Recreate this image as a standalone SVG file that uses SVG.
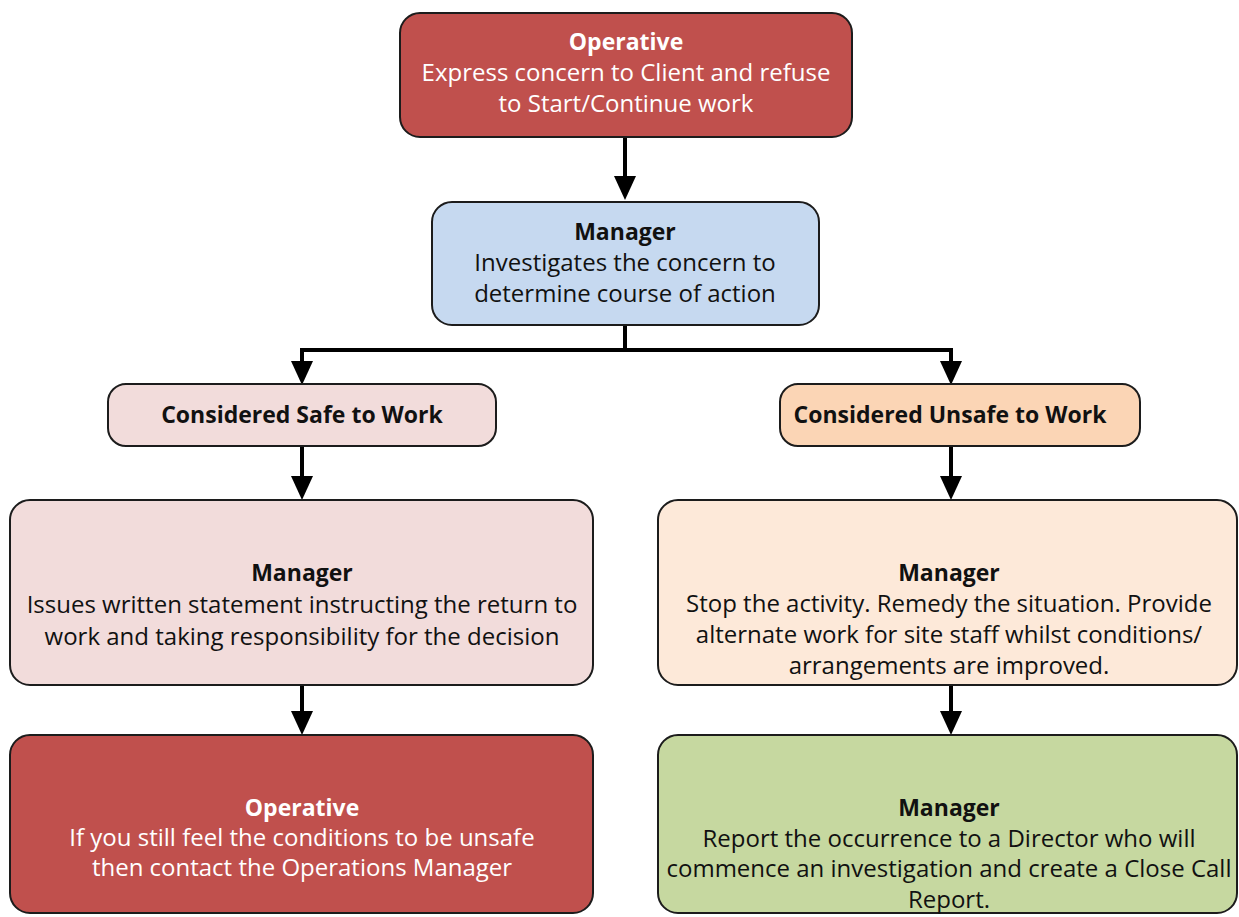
<svg xmlns="http://www.w3.org/2000/svg" width="1239" height="917" viewBox="0 0 1239 917">
<style>
.box{stroke:#1c1c1c;stroke-width:2}
.red{fill:#C0504D}
.blue{fill:#C6D9F0}
.pink{fill:#F2DCDB}
.orange{fill:#FBD5B5}
.peach{fill:#FDE9D9}
.green{fill:#C6D8A0}
text{font-family:"Open Sans","Liberation Sans",sans-serif;font-size:24px;text-anchor:middle}
.b{font-weight:bold;font-size:23px}
.w{fill:#ffffff}
.k{fill:#111111}
.conn{stroke:#000;stroke-width:4;fill:none}
</style>
<defs>
<marker id="ah" viewBox="0 0 24 22" refX="0" refY="11" markerWidth="24" markerHeight="22" markerUnits="userSpaceOnUse" orient="auto">
<path d="M0,0 L24,11 L0,22 z" fill="#000"/>
</marker>
</defs>
<g id="connectors">
<line class="conn" x1="625" y1="137" x2="625" y2="176" marker-end="url(#ah)"/>
<polyline class="conn" points="625,325 625,350"/>
<polyline class="conn" points="300,350 953,350"/>
<line class="conn" x1="302" y1="350" x2="302" y2="361" marker-end="url(#ah)"/>
<line class="conn" x1="951" y1="350" x2="951" y2="361" marker-end="url(#ah)"/>
<line class="conn" x1="302" y1="446" x2="302" y2="476" marker-end="url(#ah)"/>
<line class="conn" x1="951" y1="446" x2="951" y2="476" marker-end="url(#ah)"/>
<line class="conn" x1="302" y1="685" x2="302" y2="711" marker-end="url(#ah)"/>
<line class="conn" x1="951" y1="685" x2="951" y2="711" marker-end="url(#ah)"/>
</g>
<g id="n1">
<rect class="box red" x="400" y="13" width="452" height="124" rx="20"/>
<text class="b w" x="626" y="50">Operative</text>
<text class="w" x="626" y="81">Express concern to Client and refuse</text>
<text class="w" x="626" y="112">to Start/Continue work</text>
</g>
<g id="n2">
<rect class="box blue" x="432" y="202" width="387" height="123" rx="20"/>
<text class="b k" x="625" y="240">Manager</text>
<text class="k" x="625" y="271">Investigates the concern to</text>
<text class="k" x="625" y="302">determine course of action</text>
</g>
<g id="n3">
<rect class="box pink" x="108" y="384" width="388" height="62" rx="18"/>
<text class="b k" x="302" y="423">Considered Safe to Work</text>
</g>
<g id="n4">
<rect class="box orange" x="780" y="384" width="360" height="62" rx="18"/>
<text class="b k" x="950" y="423">Considered Unsafe to Work</text>
</g>
<g id="n5">
<rect class="box pink" x="10" y="500" width="583" height="185" rx="20"/>
<text class="b k" x="302" y="581">Manager</text>
<text class="k" x="302" y="613">Issues written statement instructing the return to</text>
<text class="k" x="302" y="645">work and taking responsibility for the decision</text>
</g>
<g id="n6">
<rect class="box peach" x="658" y="500" width="579" height="185" rx="20"/>
<text class="b k" x="949" y="581">Manager</text>
<text class="k" x="949" y="612">Stop the activity. Remedy the situation. Provide</text>
<text class="k" x="949" y="643">alternate work for site staff whilst conditions/</text>
<text class="k" x="949" y="674">arrangements are improved.</text>
</g>
<g id="n7">
<rect class="box red" x="10" y="735" width="583" height="178" rx="20"/>
<text class="b w" x="302" y="816">Operative</text>
<text class="w" x="302" y="846">If you still feel the conditions to be unsafe</text>
<text class="w" x="302" y="876">then contact the Operations Manager</text>
</g>
<g id="n8">
<rect class="box green" x="658" y="735" width="579" height="178" rx="20"/>
<text class="b k" x="949" y="816">Manager</text>
<text class="k" x="949" y="847">Report the occurrence to a Director who will</text>
<text class="k" x="949" y="877">commence an investigation and create a Close Call</text>
<text class="k" x="949" y="908">Report.</text>
</g>
</svg>
